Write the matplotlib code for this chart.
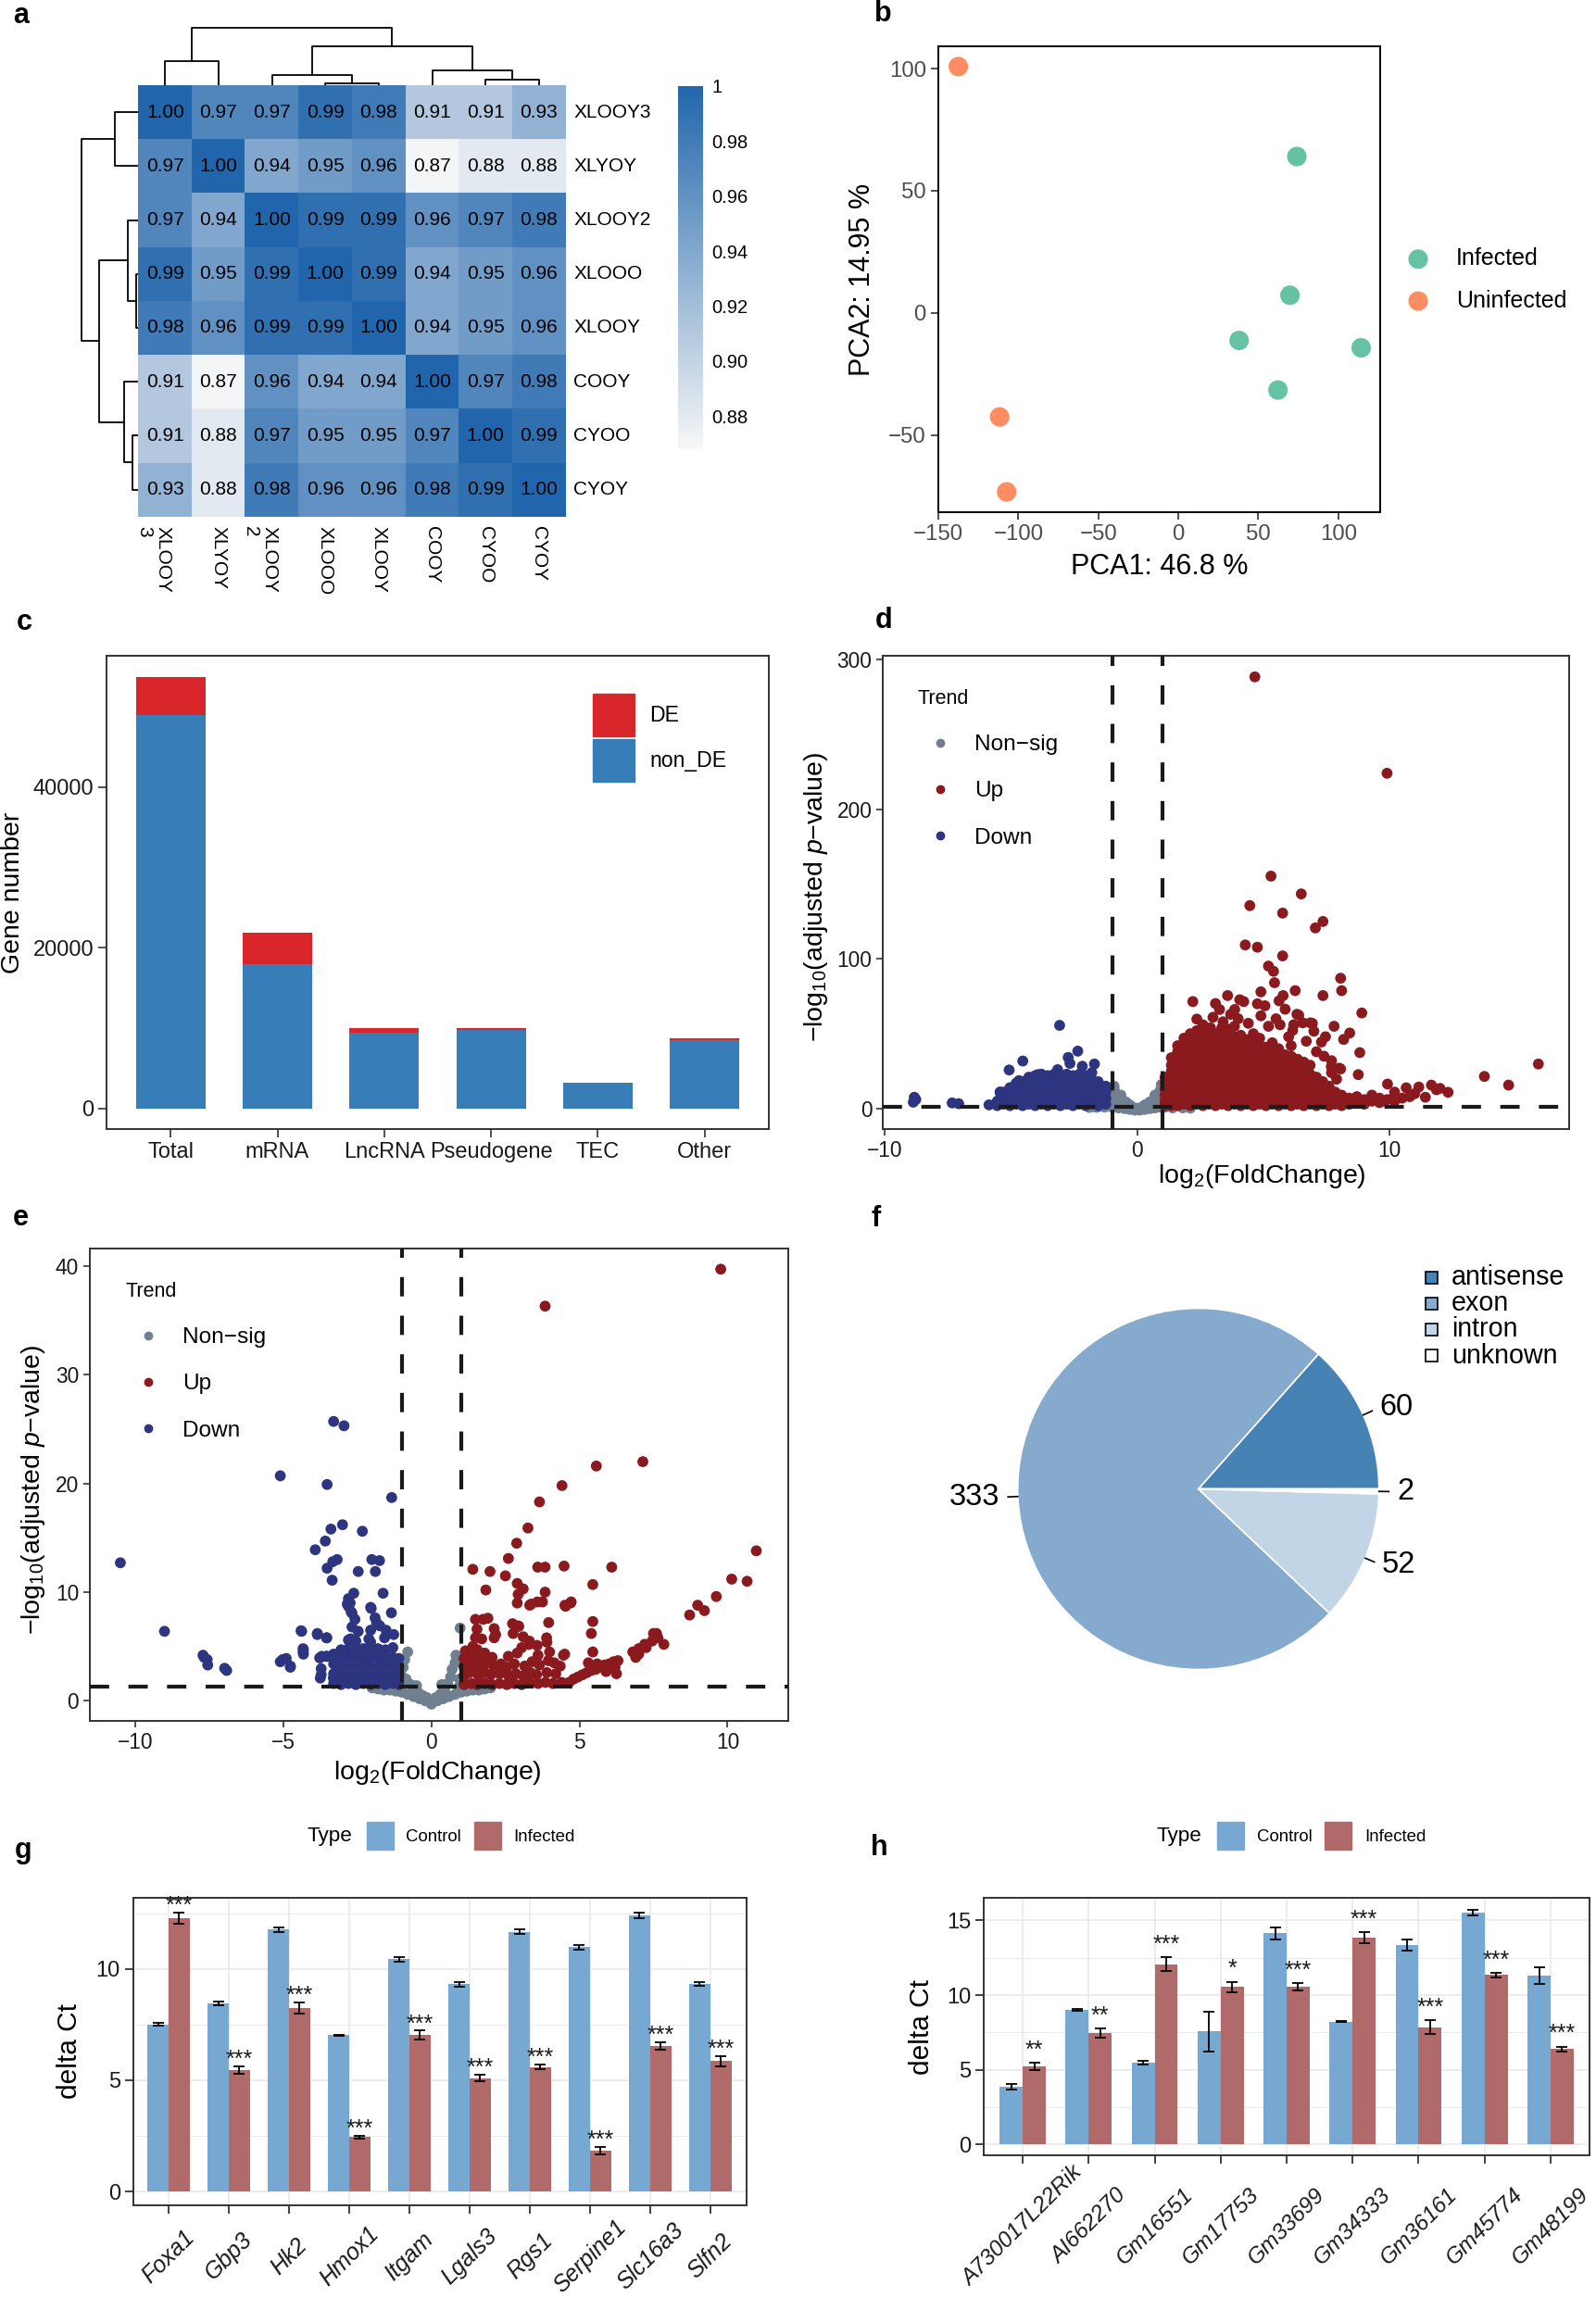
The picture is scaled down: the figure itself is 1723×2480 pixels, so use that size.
import numpy as np
import matplotlib
matplotlib.use('Agg')
import matplotlib.pyplot as plt
import matplotlib.transforms as mtransforms
from matplotlib.colors import LinearSegmentedColormap
from matplotlib.patches import Patch, Rectangle
from matplotlib.lines import Line2D

plt.rcParams['font.family'] = ['Liberation Sans', 'DejaVu Sans']
plt.rcParams['mathtext.fontset'] = 'custom'
plt.rcParams['mathtext.rm'] = 'Liberation Sans'
plt.rcParams['mathtext.it'] = 'Liberation Sans:italic'
plt.rcParams['legend.borderaxespad'] = 0

# ---------------- data ----------------
# a: sample correlation heatmap
hm_rows = ['XLOOY3', 'XLYOY', 'XLOOY2', 'XLOOO', 'XLOOY', 'COOY', 'CYOO', 'CYOY']
hm_cols = ['XLOOY\n3', 'XLYOY', 'XLOOY\n2', 'XLOOO', 'XLOOY', 'COOY', 'CYOO', 'CYOY']
hm_vals = np.array([
    [1.00, 0.97, 0.97, 0.99, 0.98, 0.91, 0.91, 0.93],
    [0.97, 1.00, 0.94, 0.95, 0.96, 0.87, 0.88, 0.88],
    [0.97, 0.94, 1.00, 0.99, 0.99, 0.96, 0.97, 0.98],
    [0.99, 0.95, 0.99, 1.00, 0.99, 0.94, 0.95, 0.96],
    [0.98, 0.96, 0.99, 0.99, 1.00, 0.94, 0.95, 0.96],
    [0.91, 0.87, 0.96, 0.94, 0.94, 1.00, 0.97, 0.98],
    [0.91, 0.88, 0.97, 0.95, 0.95, 0.97, 1.00, 0.99],
    [0.93, 0.88, 0.98, 0.96, 0.96, 0.98, 0.99, 1.00],
])
# merges: (node a, node b, height); leaves 0-7, new nodes numbered from 8
hm_merges = [(0, 1, 25.6), (3, 4, 2.2), (2, 9, 11.2), (6, 7, 6.4),
             (5, 11, 15.8), (10, 12, 42.3), (8, 13, 61.8)]
hm_cbar_ticks = [0.88, 0.90, 0.92, 0.94, 0.96, 0.98, 1.0]

# b: PCA
pca_groups = ['Infected', 'Uninfected']
pca_colors = ['#66C2A5', '#FC8D62']
pca1_inf = [74.1, 69.8, 38.0, 114.3, 62.3]
pca2_inf = [64.0, 7.2, -11.3, -14.3, -31.6]
pca1_un = [-137.5, -111.7, -107.3]
pca2_un = [100.8, -42.6, -73.3]

# c: gene numbers
gene_types = ['Total', 'mRNA', 'LncRNA', 'Pseudogene', 'TEC', 'Other']
non_de = [48884, 17955, 9494, 9824, 3196, 8461]
de = [4794, 3948, 470, 188, 20, 235]

# d: volcano (all genes)
d_up_cols = {
    1.1: [2, 5, 9, 13, 17, 21],
    1.35: [2, 5, 9, 13, 17, 21, 25, 29, 34],
    1.6: [2, 6, 10, 14, 18, 22, 26, 30, 34, 38, 42],
    1.85: [3, 7, 11, 15, 19, 23, 27, 31, 35, 39, 43, 47],
    2.1: [2, 6, 10, 14, 18, 22, 26, 30, 34, 38, 42, 46, 50],
    2.35: [3, 7, 11, 15, 19, 23, 27, 31, 35, 39, 43, 47, 52],
    2.6: [2, 6, 10, 14, 18, 22, 26, 30, 34, 38, 42, 46, 51],
    2.85: [3, 7, 11, 15, 19, 23, 27, 31, 35, 39, 43, 48],
    3.1: [2, 6, 10, 14, 18, 22, 26, 30, 34, 38, 42, 46, 50],
    3.35: [3, 7, 11, 15, 19, 23, 27, 31, 35, 39, 44, 49, 54],
    3.6: [2, 6, 10, 14, 18, 22, 26, 30, 34, 38, 42, 47, 53],
    3.85: [3, 7, 11, 15, 19, 23, 27, 31, 35, 39, 43, 48, 55],
    4.1: [2, 6, 10, 14, 18, 22, 26, 30, 34, 38, 43, 49],
    4.35: [3, 7, 11, 15, 19, 23, 27, 31, 36, 41, 46],
    4.6: [2, 6, 10, 14, 18, 22, 26, 30, 35, 40, 45, 50],
    4.85: [3, 7, 11, 15, 19, 23, 27, 32, 37, 42, 47],
    5.1: [2, 6, 10, 14, 18, 22, 26, 31, 36, 41],
    5.35: [3, 7, 11, 15, 19, 23, 28, 33, 38, 44],
    5.6: [2, 6, 10, 14, 18, 23, 28, 34, 40],
    5.85: [3, 7, 11, 15, 20, 25, 30, 36],
    6.1: [2, 6, 10, 14, 18, 23, 29, 35, 42],
    6.35: [3, 7, 11, 16, 21, 27, 33],
    6.6: [2, 6, 10, 15, 20, 26, 31],
    6.85: [3, 7, 12, 17, 23, 29],
    7.1: [2, 6, 10, 15, 21],
    7.35: [3, 7, 12, 18],
    7.6: [2, 6, 10, 15],
    7.85: [3, 7, 11],
    8.1: [2, 5, 9],
    8.4: [3, 7],
    8.7: [4, 8],
    9.0: [3, 6],
    9.3: [5, 9],
    9.6: [4, 7],
    9.9: [6],
    10.2: [5, 9],
    10.5: [7],
    10.8: [8],
}
d_up_extra = [
    (4.66, 288.4), (9.9, 224), (5.3, 155.3), (6.5, 143.4), (4.46, 135.6), (5.76, 130.6),
    (7.36, 125), (7.06, 120.7), (4.28, 109.3), (4.76, 107.8), (5.76, 102), (5.2, 95.2),
    (5.4, 91.7), (8.06, 87.1), (5.44, 84.1), (8.1, 78.8), (6.26, 78.8), (4.9, 78),
    (3.58, 75.5), (7.36, 75.5), (5.78, 75.5), (4.06, 72.7), (2.2, 71.5), (3.1, 70.2),
    (4.22, 71.5), (4.76, 70), (5.06, 68.7), (5.62, 72), (8.9, 63.9), (3.26, 66.2),
    (3.86, 66.2), (5.86, 66.4), (2.36, 59.8), (6.4, 62.4), (6.56, 57.3), (6.86, 57.3),
    (7.8, 55), (5.66, 56), (6.16, 52.3), (8.42, 50.5), (7.46, 48), (8.18, 46.2),
    (8.82, 37.4), (15.9, 29.8), (13.76, 21.5), (14.72, 15.7), (12.32, 10.9), (11.66, 15.7),
    (11.16, 14.4), (9.92, 16.4), (11.86, 12.6), (10.66, 13.9), (11.42, 7.6), (9.78, 5.1),
    (8.76, 22.7), (7.7, 24), (8.06, 26.5), (7.9, 19.7), (7.36, 15.2), (8.0, 27), (7.69, 28),
    (7.3, 44.5), (6.94, 56.9), (7.0, 51.7), (6.33, 63), (2.6, 56), (3.0, 61), (3.4, 58),
    (4.0, 60), (4.4, 57), (4.9, 62), (5.2, 55), (5.5, 60), (3.7, 63), (2.9, 54), (6.0, 48),
    (6.7, 45), (7.1, 38), (7.4, 35), (7.7, 32), (6.2, 56), (10.2, 11), (11.0, 10), (12.0, 13.5),
]
d_down_cols = {
    -5.55: [2, 5],
    -5.3: [3, 7, 11],
    -5.05: [2, 6, 10, 14],
    -4.8: [3, 7, 11, 15, 17],
    -4.55: [2, 6, 10, 14, 18],
    -4.3: [3, 7, 11, 15, 19, 21],
    -4.05: [2, 6, 10, 14, 18, 22],
    -3.8: [3, 7, 11, 15, 19, 23],
    -3.55: [2, 6, 10, 14, 18, 22],
    -3.3: [3, 7, 11, 15, 19, 23],
    -3.05: [2, 6, 10, 14, 18, 22],
    -2.8: [3, 7, 11, 15, 19, 23],
    -2.55: [2, 6, 10, 14, 18, 22],
    -2.3: [3, 7, 11, 15, 19, 23],
    -2.05: [2, 6, 10, 14, 18, 22],
    -1.8: [3, 7, 11, 15, 19, 24],
    -1.55: [2, 6, 10, 14, 18],
    -1.25: [3, 7, 11, 15],
}
d_down_extra = [
    (-3.08, 55.6), (-2.36, 38.4), (-2.74, 34.2), (-2.67, 30.2), (-4.54, 31.8), (-2.18, 28.3),
    (-1.7, 29.8), (-3.16, 26), (-5.08, 25.8), (-3.94, 22.7), (-4.33, 17.7), (-4.69, 18.7),
    (-5.44, 11.1), (-8.84, 7.6), (-8.78, 6.1), (-8.88, 4.3), (-7.34, 3.8), (-7.08, 3.3),
    (-5.88, 2.5), (-5.43, 10.5),
]
d_ns = [
    (-1.9, 0.8), (-1.6, 0.9), (-1.69, 1.2), (-1.3, 1.0), (-1.25, 4), (-1.2, 8), (-1.15, 12),
    (-1.0, 1.0), (-0.95, 4), (-0.95, 8), (-0.9, 12), (-0.92, 15), (-0.75, 0.5), (-0.7, 3),
    (-0.7, 6), (-0.65, 9), (-0.5, 0), (-0.5, 2), (-0.45, 4.5), (-0.3, -0.5), (-0.3, 1),
    (-0.3, 2.5), (-0.1, -1), (-0.1, 0.5), (0.1, -1), (0.1, 0.5), (0.3, -0.5), (0.3, 1),
    (0.3, 2.5), (0.5, 0), (0.5, 2), (0.5, 4.5), (0.7, 0.5), (0.7, 3), (0.7, 6), (0.7, 9),
    (0.9, 1), (0.9, 4), (0.9, 8), (0.9, 12), (0.95, 16), (1.1, 1), (1.1, 3), (1.4, 0.5),
    (1.8, 0.5), (2.1, 0.3),
]

# e: volcano (lncRNA)
e_up = [
    (9.77, 39.7), (3.84, 36.3), (7.14, 22.0), (5.57, 21.6), (4.41, 19.8), (3.65, 18.3),
    (3.26, 15.9), (2.88, 14.5), (10.97, 13.8), (2.6, 13.1), (4.48, 12.4), (6.09, 12.3),
    (3.59, 12.3), (3.84, 12.3), (1.4, 12.1), (1.98, 11.9), (2.5, 11.5), (10.14, 11.2),
    (10.66, 11.0), (2.9, 10.8), (5.45, 10.7), (1.84, 10.2), (3.1, 10.3), (3.84, 10.0),
    (2.93, 9.8), (9.62, 9.6), (3.58, 9.1), (3.75, 9.1), (4.7, 9.0), (3.32, 8.8), (4.53, 8.7),
    (8.99, 8.8), (9.22, 8.3), (8.72, 7.9), (2.9, 9.0), (3.96, 7.2), (2.93, 6.9), (2.76, 6.2),
    (5.4, 6.2), (7.6, 6.2), (3.89, 5.8), (1.49, 7.5), (1.75, 7.5), (1.91, 7.6), (2.12, 6.65),
    (2.17, 6.1), (1.49, 5.8), (1.7, 5.7), (2.12, 5.8), (1.54, 6.6), (2.74, 7.1), (2.95, 6.85),
    (3.1, 5.9), (3.31, 5.5), (3.57, 5.1), (3.99, 4.5), (4.46, 4.2), (5.45, 4.5), (5.45, 7.3),
    (4.51, 8.8), (4.72, 9.1), (3.37, 8.9),
    (1.1, 1.5), (1.1, 2.3), (1.1, 3.1), (1.1, 3.9), (1.15, 4.6),
    (1.35, 1.6), (1.3, 2.6), (1.35, 3.4), (1.3, 4.2), (1.4, 5.0),
    (1.55, 1.5), (1.6, 2.3), (1.55, 3.1), (1.6, 3.9), (1.55, 4.7),
    (1.8, 1.6), (1.8, 2.6), (1.85, 3.5), (1.8, 4.4),
    (2.05, 1.5), (2.0, 2.4), (2.1, 3.2), (2.05, 4.0),
    (2.3, 1.6), (2.3, 2.5), (2.35, 3.4),
    (2.55, 1.5), (2.6, 2.3), (2.55, 3.1), (2.6, 4.1),
    (2.8, 1.6), (2.85, 2.5), (2.8, 3.4), (2.9, 4.4),
    (3.05, 1.5), (3.1, 2.3), (3.15, 3.2), (3.05, 4.9),
    (3.3, 1.7), (3.35, 2.6), (3.4, 3.6), (3.3, 5.2),
    (3.6, 1.6), (3.55, 2.4), (3.65, 3.3), (3.6, 4.2),
    (3.85, 1.7), (3.9, 2.6), (3.95, 3.7), (3.9, 5.4),
    (4.1, 1.6), (4.2, 2.5), (4.15, 3.5),
    (4.4, 1.7), (4.35, 3.2), (4.5, 4.3),
    (4.65, 1.7), (4.8, 2.0), (4.95, 2.2), (5.1, 2.4), (5.25, 2.6), (5.4, 2.8), (5.55, 2.9),
    (5.7, 3.1), (5.85, 3.3), (6.0, 3.4), (6.15, 3.6), (6.3, 3.7),
    (5.3, 3.5), (5.6, 3.4), (5.9, 2.7), (6.2, 3.1), (6.25, 2.5),
    (6.8, 4.5), (7.0, 4.8), (7.2, 5.2), (7.45, 5.5), (7.65, 5.8), (7.85, 5.2), (7.5, 6.2),
    (7.0, 4.3), (7.25, 4.9), (6.9, 4.0),
]
e_down = [
    (-3.3, 25.7), (-2.95, 25.3), (-5.1, 20.7), (-3.52, 19.9), (-1.34, 18.7), (-3.0, 16.2),
    (-3.39, 15.8), (-2.33, 15.6), (-3.58, 14.7), (-3.92, 13.9), (-10.5, 12.7), (-3.18, 13.0),
    (-3.33, 12.8), (-2.01, 13.0), (-1.75, 12.9), (-3.52, 12.2), (-2.47, 11.9), (-1.89, 11.9),
    (-3.35, 11.1), (-2.62, 9.9), (-1.63, 9.9), (-2.8, 9.4), (-2.74, 9.0), (-2.8, 8.7),
    (-2.03, 8.5), (-2.71, 8.2), (-1.35, 8.1), (-9.01, 6.4), (-4.38, 6.4), (-3.85, 6.1),
    (-3.54, 5.8), (-7.71, 4.2), (-7.67, 4.0), (-7.57, 3.8), (-7.55, 3.3), (-6.98, 3.0),
    (-6.91, 2.8), (-5.1, 3.6), (-4.9, 3.9), (-4.76, 3.1), (-4.32, 4.7), (-4.32, 4.3),
    (-3.7, 4.1), (-3.54, 4.1), (-3.75, 2.1),
    (-2.68, 8.07), (-2.58, 7.5), (-1.9, 7.64), (-1.85, 7.2), (-2.68, 6.8), (-1.74, 6.9),
    (-2.47, 6.4), (-2.05, 6.5), (-1.53, 6.5), (-1.27, 6.1), (-1.58, 5.8), (-2.73, 5.7),
    (-2.11, 5.7), (-2.05, 8.6), (-2.84, 8.9), (-3.72, 2.96), (-3.72, 2.4), (-3.31, 2.1),
    (-5.02, 3.8), (-4.76, 3.2), (-3.77, 3.95), (-3.53, 4.1), (-4.33, 4.8), (-4.33, 4.5),
    (-4.4, 6.45), (-3.85, 6.2), (-3.53, 5.8),
]
e_down_cols = {
    -3.3: [1.6, 2.5, 3.4, 4.3],
    -3.05: [1.5, 2.3, 3.1, 3.9, 4.7],
    -2.8: [1.6, 2.4, 3.2, 4.0, 4.8, 5.6],
    -2.55: [1.5, 2.3, 3.1, 3.9, 4.7, 5.5],
    -2.3: [1.6, 2.4, 3.2, 4.0, 4.8],
    -2.05: [1.5, 2.3, 3.1, 3.9, 4.7, 5.4],
    -1.8: [1.6, 2.4, 3.2, 4.0, 4.8],
    -1.55: [1.5, 2.3, 3.1, 3.9, 4.7],
    -1.3: [1.6, 2.4, 3.2, 4.0, 4.9],
    -1.1: [1.5, 2.3, 3.1, 3.9],
}
e_ns = [
    (-2.0, 1.2), (-1.8, 1.1), (-1.6, 1.0), (-1.4, 1.0), (-1.2, 0.9), (-1.0, 0.8), (-0.8, 0.6),
    (-0.6, 0.4), (-0.4, 0.2), (-0.2, 0.0), (0.0, -0.3), (0.2, 0.0), (0.4, 0.2), (0.6, 0.4),
    (0.8, 0.6), (1.0, 0.8), (1.2, 0.9), (1.4, 1.0), (1.6, 1.0), (1.8, 1.1), (2.0, 1.2),
    (-1.0, 1.5), (-1.0, 2.3), (-0.95, 3.1), (-0.9, 3.8), (-0.8, 4.5), (-0.85, 2.0), (-0.7, 1.5),
    (-0.6, 1.1), (-0.45, 0.8), (-0.3, 0.5), (-0.15, 0.3), (0.15, 0.3), (0.3, 0.6), (0.45, 1.0),
    (0.55, 1.6), (0.65, 2.2), (0.7, 2.9), (0.8, 3.5), (0.83, 4.2), (0.97, 6.7), (0.9, 1.2),
    (0.95, 2.0), (-1.3, 1.3), (-1.6, 1.5), (1.3, 1.3), (1.6, 1.5), (-0.5, 1.4), (0.35, 1.5),
]

# f: DE lncRNA location
pie_labels = ['antisense', 'exon', 'intron', 'unknown']
pie_vals = [60, 333, 52, 2]
pie_colors = ['#4682B4', '#85AACD', '#C2D5E6', '#FFFFFF']

# g: qPCR mRNA
g_genes = ['Foxa1', 'Gbp3', 'Hk2', 'Hmox1', 'Itgam', 'Lgals3', 'Rgs1', 'Serpine1', 'Slc16a3', 'Slfn2']
g_ctrl = [7.51, 8.45, 11.77, 7.02, 10.44, 9.31, 11.67, 10.98, 12.41, 9.34]
g_ctrl_err = [0.06, 0.08, 0.10, 0.03, 0.10, 0.10, 0.10, 0.11, 0.14, 0.08]
g_inf = [12.28, 5.45, 8.26, 2.44, 7.03, 5.10, 5.60, 1.84, 6.54, 5.86]
g_inf_err = [0.24, 0.18, 0.25, 0.06, 0.20, 0.16, 0.10, 0.18, 0.18, 0.22]
g_stars = ['***'] * 10

# h: qPCR lncRNA
h_genes = ['A730017L22Rik', 'AI662270', 'Gm16551', 'Gm17753', 'Gm33699', 'Gm34333',
           'Gm36161', 'Gm45774', 'Gm48199']
h_ctrl = [3.87, 9.02, 5.48, 7.57, 14.15, 8.22, 13.37, 15.52, 11.30]
h_ctrl_err = [0.18, 0.05, 0.12, 1.34, 0.41, 0.03, 0.36, 0.20, 0.54]
h_inf = [5.22, 7.46, 12.07, 10.54, 10.54, 13.83, 7.85, 11.35, 6.37]
h_inf_err = [0.24, 0.30, 0.45, 0.35, 0.24, 0.37, 0.46, 0.15, 0.17]
h_stars = ['**', '**', '***', '*', '***', '***', '***', '***', '***']

# ---------------- figure ----------------
W, H = 1724, 2480
fig = plt.figure(figsize=(W / 100, H / 100), dpi=100)


def add_ax(box):
    x0, y0, x1, y1 = box
    return fig.add_axes([x0 / W, 1 - y1 / H, (x1 - x0) / W, (y1 - y0) / H])


def place_labels(ax, box, xlabel=None, xc=None, ylabel=None, yc=None, size=20.5):
    x0, y0, x1, y1 = box
    if xlabel is not None:
        ax.set_xlabel(xlabel, fontsize=size)
        ax.xaxis.set_label_coords((xc[0] - x0) / (x1 - x0), (y1 - xc[1]) / (y1 - y0))
        ax.xaxis.label.set_va('center')
    if ylabel is not None:
        ax.set_ylabel(ylabel, fontsize=size)
        ax.yaxis.set_label_coords((yc[0] - x0) / (x1 - x0), (y1 - yc[1]) / (y1 - y0))
        ax.yaxis.label.set_va('center')


def frame(ax, color='#333333', lw=1.4):
    for s in ax.spines.values():
        s.set_color(color)
        s.set_linewidth(lw)


def to_xy(cols, extra):
    pts = list(extra)
    for x, ys in cols.items():
        for y in ys:
            pts.append((x, y))
    arr = np.array(pts, dtype=float)
    return arr[:, 0], arr[:, 1]


# panel letters
for letter, (px, py) in {'a': (23, 17), 'b': (953, 15), 'c': (26, 672), 'd': (954, 670),
                         'e': (22, 1315), 'f': (946, 1316), 'g': (25, 1998), 'h': (949, 1995)}.items():
    fig.text(px / W, 1 - py / H, letter, fontsize=22, fontweight='bold', ha='center', va='center')

# ---- a: heatmap with dendrograms
hm_cmap = LinearSegmentedColormap.from_list('hm', ['#F7F7F7', '#2166AC'])
box_hm = (149.5, 92, 610.7, 557.6)
ax = add_ax(box_hm)
im = ax.imshow(hm_vals, cmap=hm_cmap, vmin=0.868, vmax=1.0, aspect='auto',
               extent=(0, 8, 8, 0), interpolation='nearest')
ax.set_xlim(0, 8)
ax.set_ylim(8, 0)
ax.axis('off')
for i in range(8):
    for j in range(8):
        ax.text(j + 0.5, i + 0.5, f'{hm_vals[i, j]:.2f}', ha='center', va='center', fontsize=15)
    ax.text(8.15, i + 0.5, hm_rows[i], ha='left', va='center', fontsize=15)
for j, lab in enumerate(hm_cols):
    shift = -9 / 72 if '\n' in lab else 0
    tr = ax.transData + mtransforms.ScaledTranslation(shift, 0, fig.dpi_scale_trans)
    ax.text(j + 0.5, 8.18, lab, rotation=-90, ha='center', va='top', fontsize=15,
            multialignment='left', linespacing=1.1, transform=tr)


def draw_dendro(dax, orient):
    pos = {i: i + 0.5 for i in range(8)}
    hgt = {i: 0.0 for i in range(8)}
    for k, (a, b, h) in enumerate(hm_merges):
        xs = [pos[a], pos[a], pos[b], pos[b]]
        ys = [hgt[a], h, h, hgt[b]]
        if orient == 'top':
            dax.plot(xs, ys, color='black', lw=1.3, clip_on=False, solid_capstyle='butt')
        else:
            dax.plot(ys, xs, color='black', lw=1.3, clip_on=False, solid_capstyle='butt')
        pos[8 + k] = (pos[a] + pos[b]) / 2
        hgt[8 + k] = h


dax = add_ax((149.5, 29.5, 610.7, 92))
draw_dendro(dax, 'top')
dax.set_xlim(0, 8)
dax.set_ylim(0, 62.5)
dax.axis('off')
dax = add_ax((87, 92, 149.5, 557.6))
draw_dendro(dax, 'left')
dax.set_xlim(62.5, 0)
dax.set_ylim(8, 0)
dax.axis('off')

cax = add_ax((732, 93, 759, 485))
cb = fig.colorbar(im, cax=cax)
cb.outline.set_visible(False)
cb.set_ticks(hm_cbar_ticks)
cb.set_ticklabels(['1' if t == 1.0 else f'{t:.2f}' for t in hm_cbar_ticks])
cax.tick_params(length=0, pad=7, labelsize=14.5)

# ---- b: PCA
box_b = (1013, 50, 1490, 553)
ax = add_ax(box_b)
ax.scatter(pca1_inf, pca2_inf, s=230, color=pca_colors[0], edgecolors='none', label=pca_groups[0])
ax.scatter(pca1_un, pca2_un, s=230, color=pca_colors[1], edgecolors='none', label=pca_groups[1])
ax.set_xlim(-150, 126.2)
ax.set_ylim(-81.6, 109.1)
ax.set_xticks([-150, -100, -50, 0, 50, 100])
ax.set_yticks([-50, 0, 50, 100])
ax.tick_params(labelsize=17.3, labelcolor='#4D4D4D', length=6, width=1.2, color='#333333')
frame(ax, 'black', 1.4)
place_labels(ax, box_b, 'PCA1: 46.8 %', (1252, 611.5), 'PCA2: 14.95 %', (931, 302), size=22)
ax.legend(loc='center left', bbox_to_anchor=(1518.5 / W, 1 - 302 / H), bbox_transform=fig.transFigure,
          frameon=False, borderpad=0, fontsize=18, handlelength=1.0, handletextpad=1.15,
          labelspacing=0.85, markerscale=1.0)

# ---- c: stacked bars
box_c = (115, 708, 830, 1219.4)
ax = add_ax(box_c)
xc = np.arange(len(gene_types))
ax.bar(xc, non_de, 0.65, color='#377EB8', label='non_DE')
ax.bar(xc, de, 0.65, bottom=non_de, color='#D8262A', label='DE')
ax.set_xlim(-0.6, 5.6)
ax.set_ylim(-2585, 56310)
ax.set_xticks(xc)
ax.set_xticklabels(gene_types)
ax.set_yticks([0, 20000, 40000])
ax.tick_params(labelsize=17, labelcolor='#1A1A1A', length=6.5, width=1.2, color='#333333')
frame(ax)
place_labels(ax, box_c, ylabel='Gene number', yc=(14, 964))
ax.legend(handles=[Patch(color='#D8262A'), Patch(color='#377EB8')], labels=['DE', 'non_DE'],
          loc='upper left', bbox_to_anchor=(640 / W, 1 - 749 / H), bbox_transform=fig.transFigure,
          frameon=False, borderpad=0, fontsize=16.6, handlelength=1.95, handleheight=2.7,
          handletextpad=0.72, labelspacing=0.12)

# ---- d/e volcano plots
ns_col, up_col, down_col = '#708090', '#8B1A1F', '#2E3580'


def volcano(box, ns, down, up, xlim, ylim, xticks, yticks, leg_anchor, xl_c, yl_c):
    ax = add_ax(box)
    ax.scatter(ns[0], ns[1], s=72, color=ns_col, edgecolors='none', zorder=2)
    ax.scatter(down[0], down[1], s=72, color=down_col, edgecolors='none', zorder=3)
    ax.scatter(up[0], up[1], s=72, color=up_col, edgecolors='none', zorder=3)
    for v in (-1, 1):
        ax.axvline(v, color='#1A1A1A', lw=3, dashes=(5, 5), zorder=5)
    ax.axhline(1.3, color='#1A1A1A', lw=3, dashes=(5, 5), zorder=5)
    ax.set_xlim(*xlim)
    ax.set_ylim(*ylim)
    ax.set_xticks(xticks)
    ax.set_yticks(yticks)
    ax.tick_params(labelsize=16.4, labelcolor='#1A1A1A', length=5, width=1.2, color='#333333')
    frame(ax)
    place_labels(ax, box, r'log$_2$(FoldChange)', xl_c, '\u2212log$_{10}$(adjusted $p$\u2212value)', yl_c)
    handles = [Line2D([], [], ls='', marker='o', markersize=6, color=c) for c in (ns_col, up_col, down_col)]
    ax.legend(handles, ['Non\u2212sig', 'Up', 'Down'], title='Trend', title_fontsize=15.5,
              alignment='left', loc='upper left', bbox_to_anchor=leg_anchor,
              bbox_transform=fig.transFigure, frameon=False, borderpad=0, fontsize=17.6,
              handlelength=1.96, handletextpad=0.55, labelspacing=1.15)
    return ax


d_up = to_xy(d_up_cols, d_up_extra)
d_down = to_xy(d_down_cols, d_down_extra)
d_nsx = to_xy({}, d_ns)
volcano((953.3, 708, 1694, 1219.4), d_nsx, d_down, d_up, (-10.08, 17.12), (-13.9, 302.5),
        [-10, 0, 10], [0, 100, 200, 300], (991 / W, 1 - 744 / H), (1362, 1270), (881, 968))

e_upx = to_xy({}, e_up)
e_downx = to_xy(e_down_cols, e_down)
e_nsx = to_xy({}, e_ns)
volcano((97, 1348, 851, 1858), e_nsx, e_downx, e_upx, (-11.53, 12.05), (-1.84, 41.6),
        [-10, -5, 0, 5, 10], [0, 10, 20, 30, 40], (136 / W, 1 - 1384 / H), (472, 1914), (36, 1608))

# ---- f: pie
ax = add_ax((1098.7, 1412.5, 1488.7, 1802.5))
wedges, _ = ax.pie(pie_vals, colors=pie_colors, startangle=0, counterclock=True,
                   wedgeprops=dict(edgecolor='white', linewidth=1.2))
ax.set_xlim(-1, 1)
ax.set_ylim(-1, 1)
for w, v in zip(wedges, pie_vals):
    th = np.deg2rad((w.theta1 + w.theta2) / 2)
    c, s = np.cos(th), np.sin(th)
    ax.plot([c, 1.055 * c], [s, 1.055 * s], color='black', lw=1.2, clip_on=False)
    ax.text(1.1 * c, 1.1 * s, str(v), fontsize=23.5, va='center',
            ha='left' if c > 0 else 'right', clip_on=False)
for i, (lab, col) in enumerate(zip(pie_labels, pie_colors)):
    yy = 1379 + i * 28.2
    fig.patches.append(Rectangle((1539 / W, 1 - (yy + 6.5) / H), 13 / W, 13 / H, facecolor=col,
                                 edgecolor='black', lw=1.2, transform=fig.transFigure, figure=fig))
    fig.text(1567 / W, 1 - yy / H, lab, fontsize=20.6, va='center', ha='left')

# ---- g/h: qPCR bars
ctrl_col, inf_col = '#76A8D1', '#B06A6A'


def qpcr(box, genes, ctrl, ctrl_err, inf, inf_err, stars, xlim, ylim, yticks, minor, pad, star_off,
         yl_c, type_c, leg_x, lab_size):
    ax = add_ax(box)
    xs = np.arange(len(genes))
    ax.bar(xs - 0.175, ctrl, 0.35, color=ctrl_col, zorder=2)
    ax.bar(xs + 0.175, inf, 0.35, color=inf_col, zorder=2)
    ax.errorbar(xs - 0.175, ctrl, yerr=ctrl_err, fmt='none', ecolor='black', elinewidth=1.3,
                capsize=4.2, capthick=1.3, zorder=3)
    ax.errorbar(xs + 0.175, inf, yerr=inf_err, fmt='none', ecolor='black', elinewidth=1.3,
                capsize=4.2, capthick=1.3, zorder=3)
    for x, m, e, st in zip(xs + 0.175, inf, inf_err, stars):
        ax.annotate(st, (x, m + e), xytext=(0, star_off), textcoords='offset points',
                    ha='center', va='baseline', fontsize=18, color='#1A1A1A')
    ax.set_xlim(*xlim)
    ax.set_ylim(*ylim)
    ax.set_xticks(xs)
    ax.set_yticks(yticks)
    ax.set_yticks(minor, minor=True)
    ax.set_axisbelow(True)
    ax.grid(True, which='major', color='#EBEBEB', lw=1.3)
    ax.grid(True, which='minor', axis='y', color='#EBEBEB', lw=0.7)
    ax.tick_params(which='minor', length=0)
    ax.tick_params(which='major', labelsize=17, labelcolor='#1A1A1A', length=6.5, width=1.3,
                   color='#333333')
    ax.tick_params(axis='x', pad=pad)
    ax.set_xticklabels(genes, rotation=45, ha='center', va='center', rotation_mode='anchor',
                       fontsize=lab_size, fontstyle='italic')
    frame(ax)
    place_labels(ax, box, ylabel='delta Ct', yc=yl_c, size=21.5)
    fig.text(type_c[0] / W, 1 - type_c[1] / H, 'Type', fontsize=16.2, ha='center', va='center')
    ax.legend([Patch(color=ctrl_col), Patch(color=inf_col)], ['Control', 'Infected'], ncol=2,
              loc='center left', bbox_to_anchor=(leg_x / W, 1 - 1982 / H),
              bbox_transform=fig.transFigure, frameon=False, borderpad=0, fontsize=13.4,
              handlelength=1.56, handleheight=2.1, handletextpad=0.73, columnspacing=0.74)
    return ax


qpcr((143.7, 2049, 805.8, 2380.7), g_genes, g_ctrl, g_ctrl_err, g_inf, g_inf_err, g_stars,
     (-0.59, 9.6), (-0.61, 13.2), [0, 5, 10], [2.5, 7.5, 12.5], 33.5, 0, (75, 2214), (356, 1982.6),
     395.7, 18)
qpcr((1062, 2049, 1716, 2327), h_genes, h_ctrl, h_ctrl_err, h_inf, h_inf_err, h_stars,
     (-0.59, 8.59), (-0.74, 16.52), [0, 5, 10, 15], [2.5, 7.5, 12.5], 48.5, 4.6, (995, 2188), (1273, 1982.6),
     1314, 17.5)

fig.savefig('out.png', dpi=100)
